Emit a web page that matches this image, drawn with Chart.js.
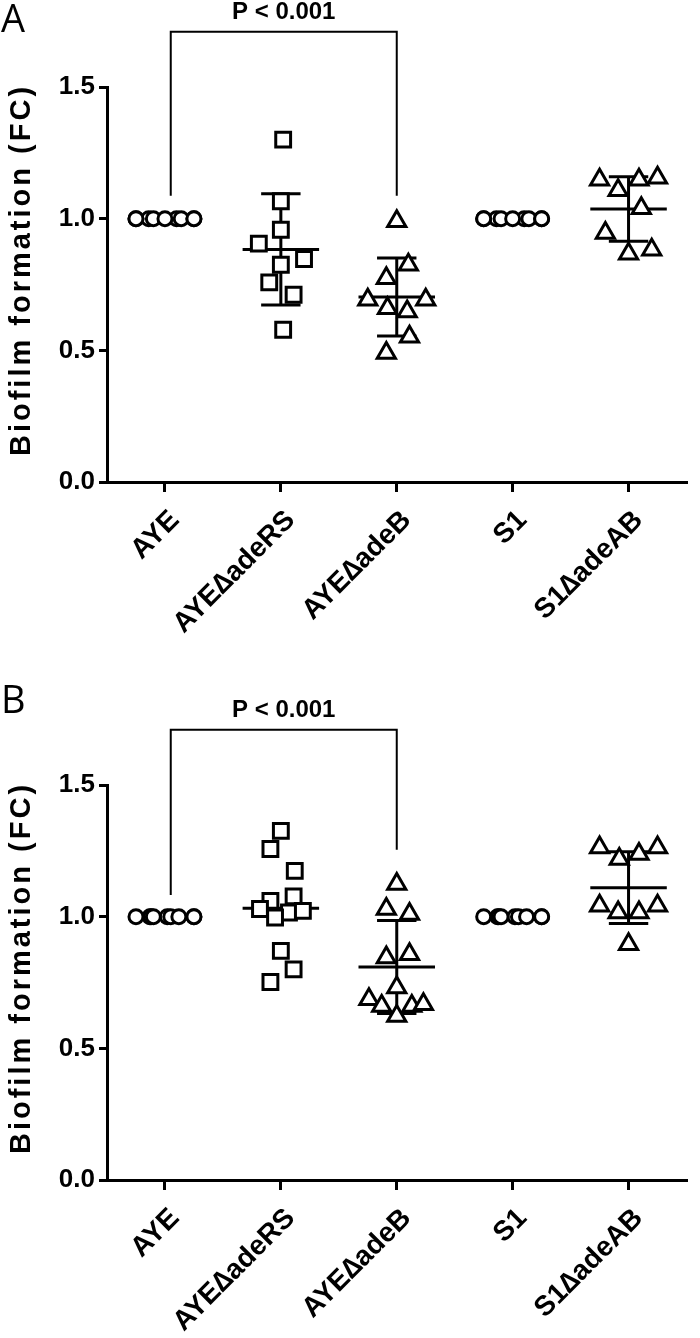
<!DOCTYPE html>
<html>
<head>
<meta charset="utf-8">
<script src="https://cdn.jsdelivr.net/npm/chart.js@4.4.1/dist/chart.umd.min.js"></script>
<style>
  body { margin: 0; background: #fff; width: 700px; height: 1338px; overflow: hidden; }
  canvas { display: block; }
</style>
</head>
<body>
<canvas id="chartA" width="700" height="669"></canvas>
<canvas id="chartB" width="700" height="669"></canvas>
<script>
// Categorias y estilos de marcador
const categories = ['AYE', 'AYE\u2206adeRS', 'AYE\u2206adeB', 'S1', 'S1\u2206adeAB'];
const markers = ['circle', 'rect', 'triangle', 'circle', 'triangle'];
const yTicks = [0, 0.5, 1.0, 1.5];
const yTitle = 'Biofilm formation (FC)';

// Panel A - valores (FC) y desplazamiento horizontal de cada punto
const aAYE = [1, 1, 1, 1, 1, 1, 1, 1, 1];
const aAYEjit = [-0.14, -0.1, 0.1, 0.14, -0.25, -0.25, 0, 0.25, 0.25];
const aAderRS = [1.30, 1.066, 0.958, 0.905, 0.847, 0.825, 0.758, 0.711, 0.578];
const aAderRSjit = [0.02, 0, 0, -0.19, 0.2, 0, -0.1, 0.11, 0.02];
const aAdeB = [0.99, 0.825, 0.774, 0.692, 0.692, 0.66, 0.647, 0.552, 0.49];
const aAdeBjit = [0, 0.1, -0.09, -0.25, 0.25, -0.08, 0.09, 0.11, -0.09];
const aS1 = [1, 1, 1, 1, 1, 1, 1, 1, 1];
const aS1jit = [-0.14, -0.1, 0.1, 0.14, -0.25, -0.25, 0, 0.25, 0.25];
const aAdeAB = [1.148, 1.108, 1.148, 1.155, 1.04, 0.946, 0.867, 0.882];
const aAdeABjit = [-0.25, -0.09, 0.09, 0.25, 0.11, -0.2, 0, 0.2];

// Panel B
const bAYE = [1, 1, 1, 1, 1, 1, 1, 1, 1];
const bAYEjit = [-0.13, -0.12, 0.02, 0.05, -0.25, -0.1, 0.12, 0.25, 0.25];
const bAderRS = [1.326, 1.257, 1.174, 1.077, 1.06, 1.029, 1.016, 1.022, 0.997, 0.87, 0.80, 0.752];
const bAderRSjit = [0, -0.09, 0.12, 0.11, -0.09, -0.18, 0.07, 0.19, -0.05, 0, 0.11, -0.09];
const bAdeB = [1.124, 1.029, 1.01, 0.857, 0.845, 0.731, 0.686, 0.661, 0.623, 0.661, 0.667];
const bAdeBjit = [0, -0.09, 0.11, 0.11, -0.09, 0, -0.24, -0.13, 0, 0.13, 0.23];
const bS1 = [1, 1, 1, 1, 1, 1, 1, 1, 1];
const bS1jit = [-0.13, -0.12, 0.02, 0.05, -0.25, -0.1, 0.12, 0.25, 0.25];
const bAdeAB = [1.263, 1.219, 1.238, 1.263, 1.041, 1.016, 1.016, 1.041, 0.895];
const bAdeABjit = [-0.25, -0.08, 0.09, 0.25, -0.25, -0.09, 0.09, 0.25, 0];

// Que grupos muestran media y desviacion estandar
const meanShown = [false, true, true, false, true];
const sdShownA = [false, true, true, false, true];
const sdShownB = [false, false, true, false, true];

// Corchete de significancia: [grupo izq, grupo der], altura y fin de cada pata
const bracketGroups = [0.05, 2];
const bracketTop = 1.71;
const bracketLegsA = [1.087, 1.087];
const bracketLegsB = [1.082, 1.254];
const pText = 'P < 0.001';

const FONT = "'Liberation Sans', Arial, Helvetica, sans-serif";

function mean(v) { return v.reduce((s, x) => s + x, 0) / v.length; }
function sd(v) {
    const m = mean(v);
    return Math.sqrt(v.reduce((s, x) => s + (x - m) * (x - m), 0) / (v.length - 1));
}

const errorBars = {
    id: 'errorBars',
    beforeDatasetsDraw(chart, args, opts) {
        const { ctx, scales: { x, y } } = chart;
        ctx.save();
        ctx.strokeStyle = '#000';
        ctx.lineWidth = 3;
        opts.groups.forEach((vals, i) => {
            const m = mean(vals);
            if (meanShown[i]) {
                ctx.beginPath();
                ctx.moveTo(x.getPixelForValue(i - 0.33), y.getPixelForValue(m));
                ctx.lineTo(x.getPixelForValue(i + 0.33), y.getPixelForValue(m));
                ctx.stroke();
            }
            if (opts.sdShown[i]) {
                const s = sd(vals);
                const cx = x.getPixelForValue(i);
                ctx.beginPath();
                ctx.moveTo(cx, y.getPixelForValue(m - s));
                ctx.lineTo(cx, y.getPixelForValue(m + s));
                [m - s, m + s].forEach(v => {
                    ctx.moveTo(x.getPixelForValue(i - 0.17), y.getPixelForValue(v));
                    ctx.lineTo(x.getPixelForValue(i + 0.17), y.getPixelForValue(v));
                });
                ctx.stroke();
            }
        });
        ctx.restore();
    }
};

const annotations = {
    id: 'annotations',
    afterDraw(chart, args, opts) {
        const { ctx, chartArea, scales: { x, y } } = chart;
        ctx.save();
        // corchete
        const x1 = x.getPixelForValue(bracketGroups[0]);
        const x2 = x.getPixelForValue(bracketGroups[1]);
        const yt = y.getPixelForValue(bracketTop);
        ctx.strokeStyle = '#000';
        ctx.lineWidth = 2;
        ctx.beginPath();
        ctx.moveTo(x1, y.getPixelForValue(opts.legs[0]));
        ctx.lineTo(x1, yt);
        ctx.lineTo(x2, yt);
        ctx.lineTo(x2, y.getPixelForValue(opts.legs[1]));
        ctx.stroke();
        // texto P
        ctx.fillStyle = '#000';
        ctx.font = 'bold 24px ' + FONT;
        ctx.textAlign = 'center';
        ctx.textBaseline = 'alphabetic';
        ctx.fillText(pText, (x1 + x2) / 2, yt - 13);
        // letra del panel
        ctx.font = "38px 'Open Sans', 'Noto Sans', sans-serif";
        ctx.textAlign = 'left';
        ctx.fillText(opts.letter, 1, opts.letterY);
        // titulo del eje Y
        ctx.save();
        ctx.translate(22, chartArea.top + 183);
        ctx.rotate(-Math.PI / 2);
        ctx.font = 'bold 29px ' + FONT;
        ctx.letterSpacing = '3px';
        ctx.textAlign = 'center';
        ctx.textBaseline = 'middle';
        ctx.fillText(yTitle, 0, 0);
        ctx.restore();
        ctx.restore();
    }
};

function makeChart(id, groups, jitters, sdShown, legs, letter, letterY, padTop, bottomSpace) {
    const datasets = groups.map((vals, i) => ({
        label: categories[i],
        data: vals.map((v, j) => ({ x: i + jitters[i][j], y: v })),
        pointStyle: markers[i],
        pointRadius: markers[i] === 'circle' ? 7 : 10.5,
        pointBorderWidth: 3,
        borderColor: '#000',
        backgroundColor: '#fff',
        clip: false
    }));
    return new Chart(document.getElementById(id), {
        type: 'scatter',
        data: { datasets },
        options: {
            responsive: false,
            animation: false,
            layout: { padding: { top: padTop, right: 1, left: 0, bottom: 0 } },
            plugins: {
                legend: { display: false },
                tooltip: { enabled: false },
                errorBars: { groups, sdShown },
                annotations: { legs, letter, letterY }
            },
            scales: {
                x: {
                    type: 'linear',
                    min: -0.5,
                    max: 4.5,
                    afterBuildTicks: s => { s.ticks = categories.map((c, i) => ({ value: i })); },
                    afterFit: s => { s.height = bottomSpace; },
                    ticks: {
                        callback: v => categories[v],
                        autoSkip: false,
                        minRotation: 45,
                        maxRotation: 45,
                        color: '#000',
                        padding: 12,
                        labelOffset: 10,
                        font: { family: FONT, size: 28, weight: 'bold' }
                    },
                    grid: { drawOnChartArea: false, color: '#000', lineWidth: 3, tickLength: 10 },
                    border: { color: '#000', width: 3 }
                },
                y: {
                    min: 0,
                    max: 1.5,
                    afterBuildTicks: s => { s.ticks = yTicks.map(v => ({ value: v })); },
                    afterFit: s => { s.width = 107; },
                    ticks: {
                        callback: v => v.toFixed(1),
                        color: '#000',
                        padding: 4,
                        font: { family: FONT, size: 26, weight: 'bold' }
                    },
                    grid: { drawOnChartArea: false, color: '#000', lineWidth: 3, tickLength: 8 },
                    border: { color: '#000', width: 3 }
                }
            }
        },
        plugins: [errorBars, annotations]
    });
}

makeChart('chartA',
    [aAYE, aAderRS, aAdeB, aS1, aAdeAB],
    [aAYEjit, aAderRSjit, aAdeBjit, aS1jit, aAdeABjit],
    sdShownA, bracketLegsA, 'A', 32, 87, 187);

makeChart('chartB',
    [bAYE, bAderRS, bAdeB, bS1, bAdeAB],
    [bAYEjit, bAderRSjit, bAdeBjit, bS1jit, bAdeABjit],
    sdShownB, bracketLegsB, 'B', 44, 116, 158);
</script>
</body>
</html>
